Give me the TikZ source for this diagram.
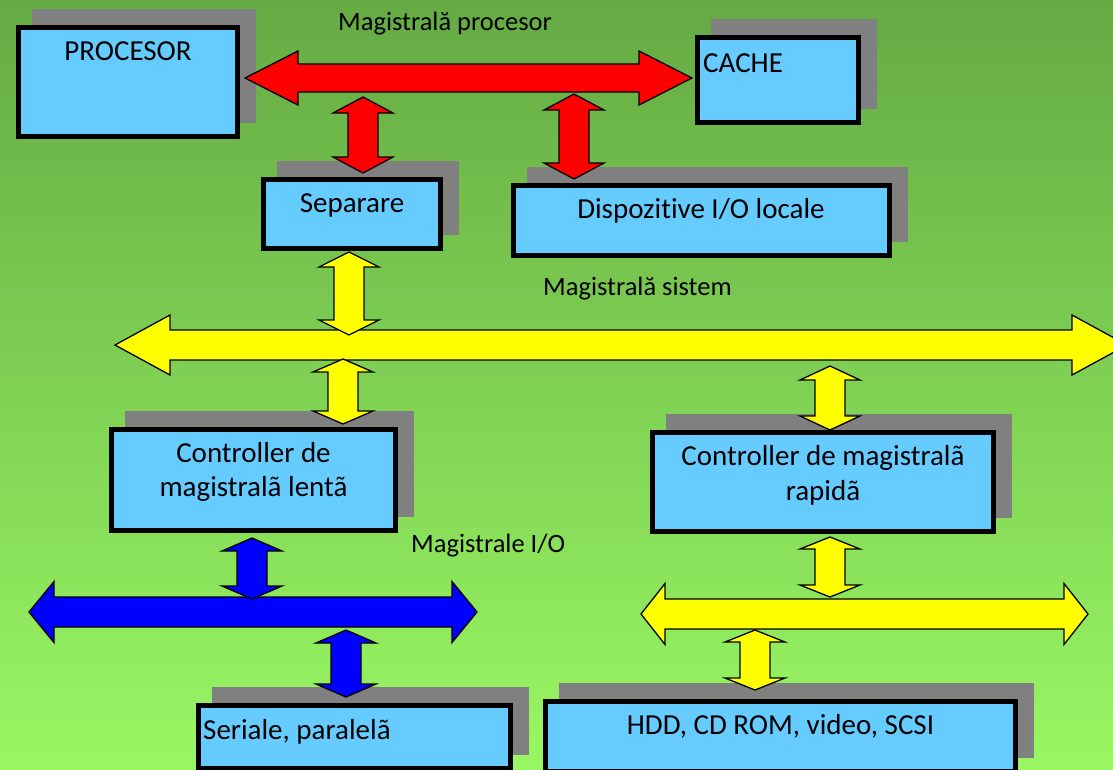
\documentclass[tikz,border=0pt]{standalone}
\usepackage{fontspec}
\setmainfont{Carlito}[Ligatures={NoCommon,NoContextual}]
\usetikzlibrary{calc,shadows}

\definecolor{bgtop}{RGB}{101,170,68}
\definecolor{bgbot}{RGB}{153,247,99}
\definecolor{boxblue}{RGB}{102,204,255}
\definecolor{shadowgray}{RGB}{128,128,128}
\definecolor{busred}{RGB}{255,0,0}
\definecolor{busyellow}{RGB}{255,255,0}
\definecolor{busblue}{RGB}{0,0,255}

\tikzset{
  unitbox/.style={draw=black, line width=4.7pt, fill=boxblue, inner sep=0pt,
    drop shadow={shadow xshift=16pt, shadow yshift=16pt, fill=shadowgray,
      draw=shadowgray, line width=4.7pt, opacity=1}},
  boxtext/.style={inner sep=0pt, font=\fontsize{29}{34}\selectfont},
  buslabel/.style={inner sep=0pt, font=\fontsize{26.5}{31}\selectfont},
  blockarrow/.style={draw=black, line width=1.3pt, line join=miter},
}

% vertical two-headed block arrow: top tip, bottom tip, head length, fill
\newcommand\UpDownArrow[4]{%
  \draw[blockarrow, fill=#4] (#1) -- ($(#1)+(30,#3)$) -- ($(#1)+(15,#3)$)
    -- ($(#2)+(15,-#3)$) -- ($(#2)+(30,-#3)$) -- (#2)
    -- ($(#2)+(-30,-#3)$) -- ($(#2)+(-15,-#3)$)
    -- ($(#1)+(-15,#3)$) -- ($(#1)+(-30,#3)$) -- cycle;}

% horizontal two-headed bus arrow: left tip, right tip, head length,
% head half width, shaft half width, fill
\newcommand\LeftRightArrow[6]{%
  \draw[blockarrow, fill=#6] (#1) -- ($(#1)+(#3,-#4)$) -- ($(#1)+(#3,-#5)$)
    -- ($(#2)+(-#3,-#5)$) -- ($(#2)+(-#3,-#4)$) -- (#2)
    -- ($(#2)+(-#3,#4)$) -- ($(#2)+(-#3,#5)$)
    -- ($(#1)+(#3,#5)$) -- ($(#1)+(#3,#4)$) -- cycle;}

\begin{document}
\begin{tikzpicture}[x=1pt, y=-1pt]
  \useasboundingbox (0,0) rectangle (1113,769);
  \clip (0,0) rectangle (1113,769);
  \shade[top color=bgtop, bottom color=bgbot] (0,0) rectangle (1113,769);

  % units
  \node[unitbox, minimum width=219.3pt, minimum height=109.3pt] (proc) at (128,82) {};
  \node[unitbox, minimum width=161.3pt, minimum height=85.3pt] (cache) at (778,80) {};
  \node[unitbox, minimum width=177.3pt, minimum height=69.3pt] (sep) at (352,214) {};
  \node[unitbox, minimum width=376.3pt, minimum height=70.3pt] (disp) at (701.5,220.5) {};
  \node[unitbox, minimum width=284.3pt, minimum height=101.3pt] (slow) at (253.5,480) {};
  \node[unitbox, minimum width=341.3pt, minimum height=99.3pt] (fast) at (823,482) {};
  \node[unitbox, minimum width=312.3pt, minimum height=63.3pt] (ser) at (354.5,737) {};
  \node[unitbox, minimum width=470.3pt, minimum height=70.3pt] (hdd) at (780.5,736.5) {};

  % unit captions
  \node[boxtext, anchor=base] (proct) at (128,60) {PROCESOR};
  \node[boxtext, anchor=base west] (cachet) at (703,72) {CACHE};
  \node[boxtext, anchor=base] (sept) at (352,212) {Separare};
  \node[boxtext, anchor=base] (dispt) at (701,218) {Dispozit\kern0pt ive I/O locale};
  \node[boxtext, anchor=base] (slowt1) at (253.5,462) {Controller de};
  \node[boxtext, anchor=base] (slowt2) at (253.5,496) {magistralã lentã};
  \node[boxtext, anchor=base] (fastt1) at (823,465) {Controller de magistralã};
  \node[boxtext, anchor=base] (fastt2) at (823,500) {rapidã};
  \node[boxtext, anchor=base west] (sert) at (203,739) {Seriale, paralelã};
  \node[boxtext, anchor=base] (hddt) at (780.5,734) {HDD, CD ROM, video, SCSI};

  % bus captions
  \node[buslabel, anchor=base west] (lproc) at (338,30) {Magistrală procesor};
  \node[buslabel, anchor=base west] (lsys) at (543,295) {Magistrală sistem};
  \node[buslabel, anchor=base west] (lio) at (411,552) {Magistrale I/O};

  % bus end points
  \coordinate (pbL) at (245,78);   \coordinate (pbR) at (692,78);
  \coordinate (sbL) at (115,345);  \coordinate (sbR) at (1127,345);
  \coordinate (fbL) at (641,614);  \coordinate (fbR) at (1088,614);
  \coordinate (ibL) at (29,612);   \coordinate (ibR) at (477,612);

  % buses
  \LeftRightArrow{pbL}{pbR}{53}{27}{14}{busred}
  \LeftRightArrow{sbL}{sbR}{55}{30}{15}{busyellow}
  \LeftRightArrow{fbL}{fbR}{24}{30.5}{15}{busyellow}
  \LeftRightArrow{ibL}{ibR}{25}{30.5}{15}{busblue}

  % links between buses and units
  \coordinate (r1a) at (363,97);   \coordinate (r1b) at (363,173);
  \coordinate (r2a) at (574,94);   \coordinate (r2b) at (574,179);
  \UpDownArrow{r1a}{r1b}{16}{busred}
  \UpDownArrow{r2a}{r2b}{16}{busred}

  \coordinate (y1a) at (349,252);  \coordinate (y1b) at (349,335);
  \coordinate (y2a) at (343,359);  \coordinate (y2b) at (343,424);
  \coordinate (y3a) at (830,366);  \coordinate (y3b) at (830,430);
  \coordinate (y4a) at (830,537);  \coordinate (y4b) at (830,597);
  \coordinate (y5a) at (755,630);  \coordinate (y5b) at (755,690);
  \UpDownArrow{y1a}{y1b}{15}{busyellow}
  \UpDownArrow{y2a}{y2b}{13}{busyellow}
  \UpDownArrow{y3a}{y3b}{14}{busyellow}
  \UpDownArrow{y4a}{y4b}{12}{busyellow}
  \UpDownArrow{y5a}{y5b}{12}{busyellow}

  \coordinate (b1a) at (252,538);  \coordinate (b1b) at (252,599);
  \coordinate (b2a) at (346,630);  \coordinate (b2b) at (346,697);
  \UpDownArrow{b1a}{b1b}{13}{busblue}
  \UpDownArrow{b2a}{b2b}{13}{busblue}
\end{tikzpicture}
\end{document}
